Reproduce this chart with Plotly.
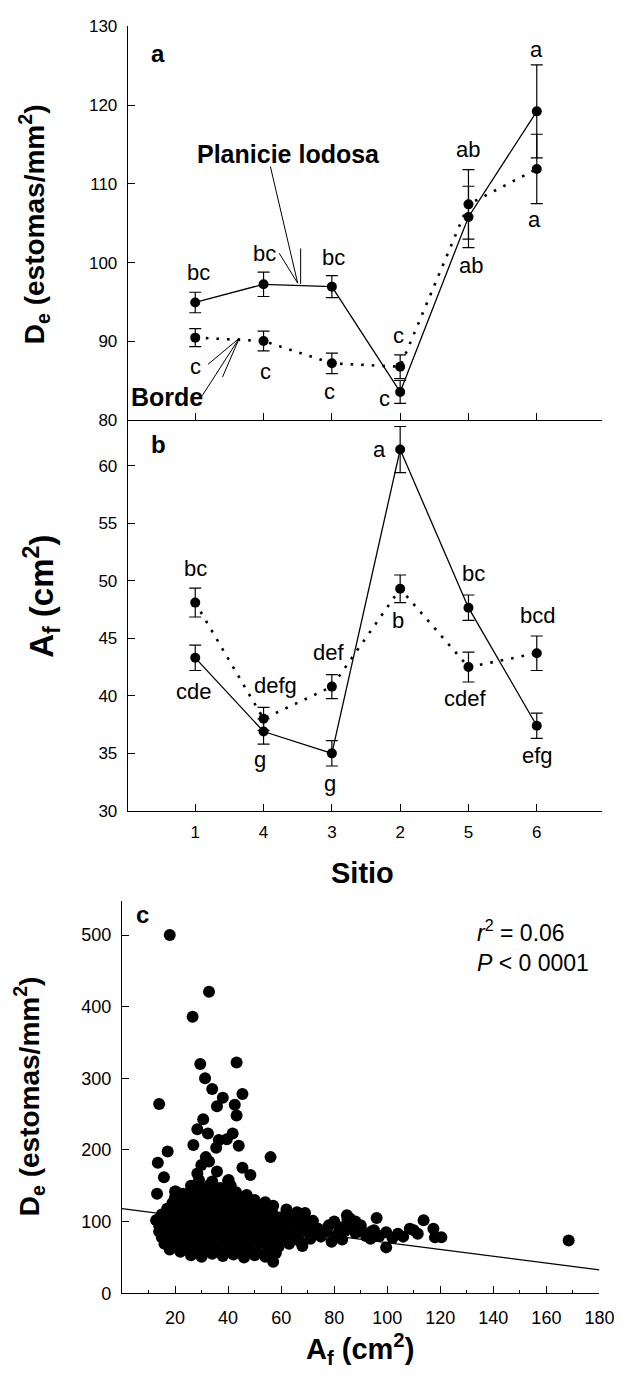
import plotly.graph_objects as go

W, H = 632, 1392
FONT = "Liberation Sans, Arial, Helvetica, sans-serif"

# ---- sites (x order of panels a and b) ----
site_labels = ["1", "4", "3", "2", "5", "6"]
site_pos = [1, 2, 3, 4, 5, 6]

# ---- panel a: stomatal density De (estomas/mm2), mean and SE ----
de_planicie = [94.95, 97.26, 96.96, 83.6, 105.8, 119.2]
de_planicie_se = [1.3, 1.55, 1.4, 1.45, 3.9, 5.9]
de_borde = [90.49, 90.06, 87.23, 86.8, 107.4, 111.9]
de_borde_se = [1.15, 1.25, 1.3, 1.5, 4.4, 4.4]
de_planicie_letters = ["bc", "bc", "bc", "c", "ab", "a"]
de_borde_letters = ["c", "c", "c", "c", "ab", "a"]

# ---- panel b: leaf area Af (cm2), mean and SE ----
af_planicie = [43.3, 36.9, 35.0, 61.4, 47.66, 37.4]
af_planicie_se = [1.1, 1.1, 1.1, 2.0, 1.1, 1.1]
af_borde = [48.1, 38.0, 40.8, 49.3, 42.5, 43.7]
af_borde_se = [1.25, 1.0, 1.05, 1.2, 1.3, 1.5]
af_planicie_letters = ["cde", "g", "g", "a", "bc", "efg"]
af_borde_letters = ["bc", "defg", "def", "b", "cdef", "bcd"]

# ---- panel c: individual leaves, area vs stomatal density ----
leaf_af = [
    26, 30, 34, 38, 42, 46, 50, 54, 57,
    18, 22, 25, 29, 33, 36, 40, 44, 47, 51, 55, 58,
    16, 19, 23, 27, 30, 34, 38, 41, 45, 48, 52, 56, 59, 63, 68,
    20, 26, 33, 40, 47, 54,
    15, 18, 21, 25, 28, 32, 35, 39, 43, 46, 50, 53, 57, 60, 64, 67, 71, 75, 79, 83,
    14, 17, 20, 24, 27, 31, 34, 38, 41, 45, 48, 52, 55, 59, 62, 66, 69, 73, 77, 81, 84, 88, 92,
    16, 22, 29, 36, 43, 50, 57,
    14, 17, 21, 24, 28, 31, 35, 39, 42, 46, 49, 53, 56, 60, 63, 67, 70, 74, 78, 82, 86, 90, 94,
    13, 16, 19, 23, 26, 30, 33, 37, 40, 44, 47, 51, 54, 58, 61, 65, 68, 72, 80, 85,
    20, 28, 35, 42, 49, 56,
    15, 18, 22, 25, 29, 32, 36, 39, 43, 46, 50, 53, 57, 60, 64, 69,
    17, 20, 24, 27, 31, 34, 38, 41, 45, 48, 52, 56, 62, 66,
    22, 30, 37, 44, 50,
    19, 22, 26, 29, 33, 36, 40, 43, 47, 51, 54, 57,
    20, 24, 27, 31, 35, 38, 42, 46, 50,
    25, 33, 40, 47,
    20, 23, 27, 30, 34, 38, 43,
    26, 30, 33, 37, 41,
    29, 34, 40,
    18, 32.8, 26.6, 29.5, 43.2, 31.3, 34, 14, 38, 45.4, 42.5, 35.8, 43.2, 30.6,
    28.4, 32.4, 41.7, 36.5, 39.5, 44, 35.5, 13.5, 17.2, 26.9, 56, 31.6, 32.8,
    29.9, 35.8, 45.4, 48.4, 15.8, 28.4, 40.2, 13.2, 20.2, 12.9,
    96, 99.6, 99.6, 104, 108.5, 113.7, 111.5, 117.4, 118, 120.4, 168.4, 93.7,
    84.8, 86, 88, 90, 95, 97, 102, 106, 110,
]
leaf_de = [
    53, 51, 55, 52, 54, 50, 53, 51, 44,
    61, 58, 62, 59, 61, 58, 62, 59, 61, 57, 60, 56,
    69, 66, 70, 67, 69, 66, 70, 67, 69, 66, 70, 67, 65, 69, 66,
    73, 72, 74, 73, 72, 74,
    78, 75, 79, 76, 78, 75, 79, 76, 78, 75, 79, 76, 78, 74, 77, 73, 76, 79, 72, 75,
    86, 83, 87, 84, 86, 83, 87, 84, 86, 83, 87, 84, 86, 82, 86, 83, 87, 84, 86, 82, 87, 84, 80,
    89, 90, 88, 89, 90, 88, 89,
    94, 91, 95, 92, 94, 91, 95, 92, 94, 91, 95, 92, 94, 91, 95, 92, 94, 90, 95, 92, 96, 91, 86,
    102, 99, 103, 100, 102, 99, 103, 100, 102, 99, 103, 100, 102, 99, 103, 100, 104, 101, 100, 103,
    105, 106, 104, 105, 106, 104,
    110, 107, 111, 108, 110, 107, 111, 108, 110, 107, 111, 108, 110, 106, 109, 112,
    118, 115, 119, 116, 118, 115, 119, 116, 118, 115, 119, 116, 117, 113,
    121, 122, 120, 121, 122,
    126, 123, 127, 124, 126, 123, 127, 124, 126, 123, 127, 122,
    134, 131, 135, 132, 134, 131, 135, 132, 130,
    137, 138, 136, 137,
    142, 139, 143, 140, 142, 139, 141,
    150, 148, 151, 147, 150,
    158, 156, 157,
    500, 421, 386, 320, 322, 300, 285, 264, 273, 278, 263, 261, 248, 243,
    229, 223, 223, 214, 215, 206, 203, 182, 198, 207, 190, 190, 184,
    179, 170, 175, 165, 162, 167, 158, 139, 142, 102,
    105, 85, 64, 83, 90, 102, 83, 90, 78, 78, 73.5, 76,
    109, 104, 100, 95, 88, 80, 77, 79, 88,
]

# fitted regression line (r2 = 0.06)
fit_af = [0, 180]
fit_de = [118.0, 32.7]


def paper(px, py):
    return px / W, 1 - py / H


fig = go.Figure()

solid = dict(color="black", width=1.3)
dotted = dict(color="black", width=2.6, dash="2.6px,8px")
mark = dict(color="black", size=10)


def err(vals):
    return dict(type="data", array=vals, visible=True, color="black",
                thickness=1.2, width=6)


# panel a
fig.add_trace(go.Scatter(x=site_pos, y=de_borde, mode="lines+markers",
                         line=dotted, marker=mark, error_y=err(de_borde_se),
                         xaxis="x", yaxis="y", name="Borde"))
fig.add_trace(go.Scatter(x=site_pos, y=de_planicie, mode="lines+markers",
                         line=solid, marker=mark, error_y=err(de_planicie_se),
                         xaxis="x", yaxis="y", name="Planicie lodosa"))
# panel b
fig.add_trace(go.Scatter(x=site_pos, y=af_borde, mode="lines+markers",
                         line=dotted, marker=mark, error_y=err(af_borde_se),
                         xaxis="x2", yaxis="y2", name="Borde"))
fig.add_trace(go.Scatter(x=site_pos, y=af_planicie, mode="lines+markers",
                         line=solid, marker=mark, error_y=err(af_planicie_se),
                         xaxis="x2", yaxis="y2", name="Planicie lodosa"))
# panel c
fig.add_trace(go.Scatter(x=leaf_af, y=leaf_de, mode="markers",
                         marker=dict(color="black", size=12, line=dict(width=0)),
                         xaxis="x3", yaxis="y3", cliponaxis=False))
fig.add_trace(go.Scatter(x=fit_af, y=fit_de, mode="lines",
                         line=dict(color="black", width=1.3),
                         xaxis="x3", yaxis="y3"))

axis_style = dict(showline=True, linecolor="black", linewidth=1.3,
                  ticks="inside", ticklen=7, tickwidth=1.3, tickcolor="black",
                  showgrid=False, zeroline=False, ticklabelstandoff=6,
                  tickfont=dict(family=FONT, size=17, color="black"))

dom_ab_x = [131 / W, 617 / W]
fig.update_layout(
    width=W, height=H,
    margin=dict(l=0, r=0, t=0, b=0),
    paper_bgcolor="white", plot_bgcolor="white",
    showlegend=False,
    font=dict(family=FONT, color="black"),
    xaxis=dict(axis_style, domain=dom_ab_x, range=[0.014, 6.96], anchor="y",
               tickmode="array", tickvals=site_pos, showticklabels=False),
    yaxis=dict(axis_style, domain=[1 - 417 / H, 1 - 17.5 / H], range=[80, 130],
               anchor="x", tickmode="array", tickvals=[80, 90, 100, 110, 120, 130]),
    xaxis2=dict(axis_style, domain=dom_ab_x, range=[0.014, 6.96], anchor="y2",
                tickmode="array", tickvals=site_pos, ticktext=site_labels),
    yaxis2=dict(axis_style, domain=[1 - 813 / H, 1 - 417 / H], range=[30, 63.94],
                anchor="x2", tickmode="array", tickvals=[30, 35, 40, 45, 50, 55, 60]),
    xaxis3=dict(axis_style, domain=[125 / W, 614 / W], range=[0, 180], anchor="y3",
                tickmode="array", tickvals=[20, 40, 60, 80, 100, 120, 140, 160, 180],
                tickfont=dict(family=FONT, size=18, color="black"),
                ticklabelstandoff=8,
                minor=dict(tickmode="linear", tick0=10, dtick=20, ticks="inside",
                           ticklen=3, tickwidth=1, tickcolor="black")),
    yaxis3=dict(axis_style, domain=[1 - 1302 / H, 1 - 904 / H], range=[0, 548],
                anchor="x3", tickmode="array", tickvals=[0, 100, 200, 300, 400, 500],
                tickfont=dict(family=FONT, size=18, color="black")),
)

ann = []


def letter(xref, yref, x, y, text, dx, dy):
    ann.append(dict(xref=xref, yref=yref, x=x, y=y, text=text, showarrow=False,
                    xanchor="center", yanchor="middle", xshift=dx, yshift=dy,
                    font=dict(family=FONT, size=22, color="black")))


# significance letters
off_a_plan = [(3, 30), (1, 31), (2, 29), (-16, -7), (3, -49), (0, 62)]
off_a_bord = [(0, -29), (2, -30), (-2, -28), (-2, 31), (0, 55), (-2, -51)]
off_b_plan = [(-2, -34), (-4, -28), (-2, -30), (-21, 0), (5, 34), (1, -30)]
off_b_bord = [(0, 34), (12, 33), (-3, 34), (-2, -32), (-3, -31), (1, 38)]
for i, p in enumerate(site_pos):
    letter("x", "y", p, de_planicie[i], de_planicie_letters[i], *off_a_plan[i])
    letter("x", "y", p, de_borde[i], de_borde_letters[i], *off_a_bord[i])
    letter("x2", "y2", p, af_planicie[i], af_planicie_letters[i], *off_b_plan[i])
    letter("x2", "y2", p, af_borde[i], af_borde_letters[i], *off_b_bord[i])


def text_px(px, py, text, size, bold=False, angle=0, xanchor="center", align="center"):
    x, y = paper(px, py)
    ann.append(dict(xref="paper", yref="paper", x=x, y=y,
                    text=f"<b>{text}</b>" if bold else text, showarrow=False,
                    xanchor=xanchor, yanchor="middle", textangle=angle, align=align,
                    font=dict(family=FONT, size=size, color="black")))


# panel labels
text_px(162, 45, "a", 24, bold=True)
text_px(162, 442, "b", 24, bold=True)
text_px(146, 918, "c", 24, bold=True)

# series labels
text_px(296, 147, "Planicie lodosa", 25, bold=True)
text_px(171, 393, "Borde", 25, bold=True)

# axis titles
de_title = "D<sub>e</sub> (estomas/mm<sup>2</sup>)"
af_title = "A<sub>f</sub> (cm<sup>2</sup>)"
text_px(35, 218, de_title, 28, bold=True, angle=-90)
text_px(43, 595, af_title, 33, bold=True, angle=-90)
text_px(371, 876, "Sitio", 29, bold=True)
text_px(30, 1102, de_title, 28, bold=True, angle=-90)
text_px(369, 1359, af_title, 29, bold=True)

# regression statistics
text_px(487, 950, "<i>r</i><sup>2</sup> = 0.06<br><i>P</i> &lt; 0 0001", 23,
        xanchor="left", align="left")

fig.update_layout(annotations=ann)

# leader lines from the series labels to their lines
leaders_a = [
    ((2.10, 112.2), (2.50, 97.4)),
    ((2.543, 101.8), (2.543, 97.3)),
    ((2.229, 101.2), (2.50, 97.4)),
    ((1.10, 83.1), (1.643, 90.4)),
    ((1.186, 87.1), (1.643, 90.4)),
    ((1.40, 85.5), (1.643, 90.4)),
]
for (x0, y0), (x1, y1) in leaders_a:
    fig.add_shape(type="line", xref="x", yref="y", x0=x0, y0=y0, x1=x1, y1=y1,
                  line=dict(color="black", width=1))

fig.write_html("out.html")
